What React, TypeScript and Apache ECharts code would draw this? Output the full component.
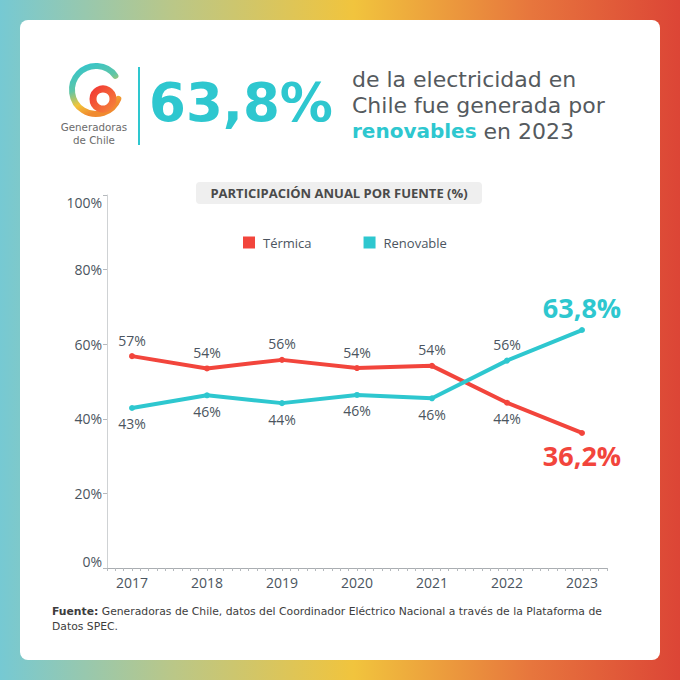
import React, { useEffect, useRef } from "react";
import * as echarts from "echarts";

const years = [2017, 2018, 2019, 2020, 2021, 2022, 2023];
const termica = [56.8, 53.5, 55.8, 53.6, 54.2, 44.3, 36.2];
const renovable = [42.9, 46.3, 44.2, 46.4, 45.5, 55.6, 63.8];
const seriesNames = ["Térmica", "Renovable"];
const yTickValues = [0, 20, 40, 60, 80, 100];

const RED = "#f2453c";
const TEAL = "#2ec7cf";
const LABEL = "#4b5560";
const FONT = "'Open Sans', 'Noto Sans', sans-serif";
const DV = "'DejaVu Sans', sans-serif";

function fmt(v: number, last: boolean) {
  return last ? v.toFixed(1).replace(".", ",") + "%" : Math.round(v) + "%";
}

function buildData(values: number[], other: number[], color: string) {
  return values.map((v, i) => {
    const last = i === values.length - 1;
    const above = v >= other[i];
    return {
      value: [years[i], v],
      label: {
        show: true,
        position: above ? "top" : "bottom",
        distance: 6,
        formatter: () => fmt(v, last),
        color: last ? color : LABEL,
        fontSize: last ? 27 : 14,
        fontWeight: last ? "bold" : "normal",
        fontFamily: FONT,
      },
    };
  });
}

function txt(text: string, x: number, y: number, extra: any) {
  return {
    type: "text",
    style: { text, x, y, textVerticalAlign: "middle", fontFamily: FONT, ...extra },
  };
}

export default function App() {
  const ref = useRef<HTMLDivElement>(null);
  useEffect(() => {
    if (!ref.current) return;
    const chart = echarts.init(ref.current, undefined, { renderer: "svg" });
    const logoGrad = new echarts.graphic.LinearGradient(0, 0, 0.4, 1, [
      { offset: 0, color: "#2fc4cf" },
      { offset: 0.45, color: "#5ec6a8" },
      { offset: 0.75, color: "#f2c53a" },
      { offset: 1, color: "#f08a2f" },
    ]);
    const ringGrad = new echarts.graphic.LinearGradient(0, 0, 1, 1, [
      { offset: 0, color: "#f23b35" },
      { offset: 1, color: "#f5803a" },
    ]);
    const headStyle = { fontSize: 22, lineHeight: 22, fill: "#555a5e", fontFamily: DV };
    chart.setOption({
      animation: false,
      backgroundColor: new echarts.graphic.LinearGradient(0, 0, 1, 0, [
        { offset: 0, color: "#76c9d3" },
        { offset: 0.25, color: "#b9c789" },
        { offset: 0.52, color: "#f1c43d" },
        { offset: 0.78, color: "#e7763d" },
        { offset: 1, color: "#dc4536" },
      ]),
      textStyle: { fontFamily: FONT },
      graphic: [
        {
          type: "rect",
          z: -10,
          shape: { x: 20, y: 20, width: 640, height: 640, r: 8 },
          style: { fill: "#ffffff" },
        },
        {
          type: "arc",
          shape: { cx: 96, cy: 90, r: 24, startAngle: Math.PI * 0.12, endAngle: Math.PI * 1.8, clockwise: true },
          style: { stroke: logoGrad, lineWidth: 6, fill: null, lineCap: "round" },
        },
        {
          type: "circle",
          shape: { cx: 103, cy: 99, r: 10 },
          style: { stroke: ringGrad, lineWidth: 7, fill: null },
        },
        txt("Generadoras", 94, 127, { textAlign: "center", fontSize: 10.3, lineHeight: 11, fill: "#6b6b6b", fontFamily: DV }),
        txt("de Chile", 94, 139.5, { textAlign: "center", fontSize: 10.3, lineHeight: 11, fill: "#6b6b6b", fontFamily: DV }),
        {
          type: "line",
          shape: { x1: 139, y1: 67, x2: 139, y2: 145 },
          style: { stroke: TEAL, lineWidth: 2 },
        },
        txt("63,8%", 149, 102, {
          fontSize: 53,
          fontWeight: "bold",
          fontFamily: DV,
          fill: TEAL,
        }),
        txt("de la electricidad en", 352, 79, headStyle),
        txt("Chile fue generada por", 352, 105, headStyle),
        txt("{b|renovables} en 2023", 352, 131, {
          ...headStyle,
          rich: { b: { fontSize: 20, lineHeight: 22, fontWeight: "bold", fill: TEAL, fontFamily: DV } },
        }),
        {
          type: "rect",
          shape: { x: 196, y: 182, width: 286, height: 22, r: 4 },
          style: { fill: "#efefef" },
        },
        txt("PARTICIPACIÓN ANUAL POR FUENTE (%)", 339, 193, {
          textAlign: "center",
          fontSize: 13,
          fontWeight: "bold",
          fill: "#4a4a4a",
        }),
        txt(
          "{b|Fuente:} Generadoras de Chile, datos del Coordinador Eléctrico Nacional a través de la Plataforma de",
          52,
          611,
          {
            fontSize: 10.8,
            lineHeight: 12,
            fill: "#3d3d3d",
            fontFamily: DV,
            rich: { b: { fontSize: 10.8, lineHeight: 12, fontWeight: "bold", fill: "#3d3d3d", fontFamily: DV } },
          }
        ),
        txt("Datos SPEC.", 52, 626, { fontSize: 10.8, lineHeight: 12, fill: "#3d3d3d", fontFamily: DV }),
      ],
      legend: {
        data: seriesNames.map((n, i) => ({ name: n, itemStyle: { color: i === 0 ? RED : TEAL } })),
        left: 238,
        top: 231,
        icon: "rect",
        itemWidth: 12,
        itemHeight: 12,
        itemGap: 52,
        textStyle: { color: LABEL, fontSize: 13, fontFamily: FONT, padding: [0, 0, 0, 3] },
      },
      grid: { left: 107, right: 73, top: 195, bottom: 112, containLabel: false },
      xAxis: {
        type: "value",
        min: 2016 + 2 / 3,
        max: 2023 + 1 / 3,
        interval: 1 / 3,
        axisLine: { show: true, lineStyle: { color: "#a9adb1", width: 1 } },
        axisTick: { show: true, length: 3, lineStyle: { color: "#b5b9bd" } },
        minorTick: { show: true, splitNumber: 3, length: 3, lineStyle: { color: "#b5b9bd" } },
        splitLine: { show: false },
        minorSplitLine: { show: false },
        axisLabel: {
          customValues: years,
          formatter: (v: number) => String(v),
          color: LABEL,
          fontSize: 14,
          margin: 7,
          fontFamily: FONT,
        },
      },
      yAxis: {
        type: "value",
        min: yTickValues[0],
        max: yTickValues[yTickValues.length - 1],
        interval: 20,
        axisLine: { show: true, lineStyle: { color: "#cfd2d4", width: 1 } },
        axisTick: { show: true, length: 4, lineStyle: { color: "#b5b9bd" } },
        splitLine: { show: false },
        axisLabel: {
          formatter: "{value}%",
          color: LABEL,
          fontSize: 14,
          margin: 5,
          fontFamily: FONT,
          verticalAlignMinLabel: "bottom",
          verticalAlignMaxLabel: "top",
        },
      },
      series: [
        {
          name: seriesNames[0],
          type: "line",
          data: buildData(termica, renovable, RED),
          symbol: "circle",
          symbolSize: 6,
          itemStyle: { color: RED },
          lineStyle: { color: RED, width: 4 },
          z: 3,
        },
        {
          name: seriesNames[1],
          type: "line",
          data: buildData(renovable, termica, TEAL),
          symbol: "circle",
          symbolSize: 6,
          itemStyle: { color: TEAL },
          lineStyle: { color: TEAL, width: 4 },
          z: 4,
        },
      ],
    });
    return () => chart.dispose();
  }, []);
  return (
    <div
      ref={ref}
      style={{ position: "fixed", left: 0, top: 0, width: 680, height: 680 }}
    />
  );
}
